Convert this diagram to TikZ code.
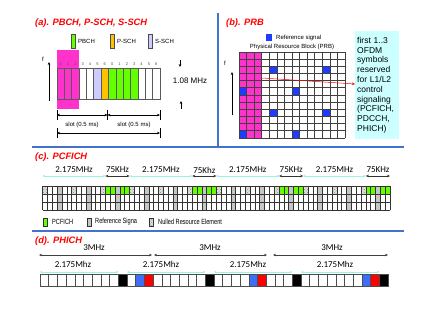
\documentclass[tikz,border=0pt]{standalone}
\usepackage{fontspec}
\setmainfont{Liberation Sans}
\newfontfamily\calibri{Carlito}
\usetikzlibrary{arrows.meta,patterns}
\definecolor{frameblue}{RGB}{66,114,204}
\definecolor{pinkre}{RGB}{255,51,204}
\definecolor{pbchgreen}{RGB}{102,255,0}
\definecolor{pschyellow}{RGB}{255,192,0}
\definecolor{sschlav}{RGB}{204,204,255}
\definecolor{refblue}{RGB}{30,60,255}
\definecolor{bwcyan}{RGB}{150,245,225}
\definecolor{notecyan}{RGB}{204,255,255}
\definecolor{phiblue}{RGB}{60,110,250}
\tikzset{
  paneltitle/.style={anchor=west,text=red,inner sep=0pt,font=\fontsize{9.3}{10}\selectfont\bfseries\itshape},
  smalltext/.style={inner sep=0pt,font=\fontsize{6}{7}\selectfont},
  bwtext/.style={inner sep=0pt,font=\calibri\fontsize{9}{10}\selectfont},
  legtext/.style={inner sep=0pt,anchor=west,font=\fontsize{7.5}{8}\selectfont},
  panelline/.style={frameblue,line width=2.2pt},
  recell/.style={draw=black!65,line width=0.7pt},
  nullre/.style={preaction={fill=gray!25},pattern=crosshatch dots,pattern color=gray!90},
  bwarrow/.style={bwcyan,line width=0.8pt,{Stealth[length=2.5pt,width=2.5pt]}-{Stealth[length=2.5pt,width=2.5pt]}},
}
\begin{document}
\begin{tikzpicture}[x=1pt,y=-1pt,>={Stealth[length=3pt,width=2.6pt]}]
\useasboundingbox[fill=white] (0,0) rectangle (436,308);
% panel frame lines
\draw[panelline] (32,147) -- (404,147);
\draw[panelline] (218,13) -- (218,147);
\draw[panelline] (32,231) -- (404,231);
% (a) synchronisation and broadcast channels
\node[paneltitle] (ta) at (35,23) {(a). PBCH, P-SCH, S-SCH};
\foreach \c/\t/\x [count=\n] in {pbchgreen/PBCH/71,pschyellow/P-SCH/110,sschlav/S-SCH/148}{
  \draw[fill=\c,draw=black!70,line width=0.5pt] (\x,34) rectangle ++(4,14);
  \node[smalltext,anchor=west] (lega\n) at (\x+7,41) {\t};
}
\fill[pinkre] (57,50) rectangle (79,109);
\foreach \c [count=\i from 0] in {none,none,none,white,white,sschlav,pschyellow,pbchgreen,pbchgreen,pbchgreen,pbchgreen,white,white,white}{
  \draw[recell,fill=\c] (57+\i*7.357,68) rectangle ++(7.357,31);
  \pgfmathtruncatemacro\k{mod(\i,7)}
  \node[inner sep=0pt,text=black!70,font=\fontsize{4}{4}\selectfont] (sym\i) at (60.68+\i*7.357,64.5) {\k};
}
\coordinate (fa0) at (49,101);
\coordinate (fa1) at (49,62);
\draw[->,line width=0.8pt] (fa0) -- (fa1);
\node[smalltext] (fa) at (43,59) {f};
\node[inner sep=0pt,font=\fontsize{8}{9}\selectfont] (bw) at (190,81) {1.08 MHz};
\draw[->,line width=0.8pt] (180,60) -- (180,67);
\draw[->,line width=0.8pt] (181,109) -- (181,101);
\foreach \x [count=\n] in {57,107.5,160}{
  \coordinate (sl\n) at (\x,115);
  \draw[line width=0.8pt] (\x,110) -- (\x,120);
}
\draw[<->,line width=0.8pt] (sl1) -- (sl2);
\draw[<->,line width=0.8pt] (sl2) -- (sl3);
\node[smalltext] (slot1) at (82,125) {slot (0.5 ms)};
\node[smalltext] (slot2) at (134,125) {slot (0.5 ms)};
\coordinate (sf1) at (57,133);
\coordinate (sf2) at (160,133);
\draw[line width=0.8pt] (57,128) -- (57,138) (160,128) -- (160,138);
\draw[<->,line width=0.8pt] (sf1) -- (sf2);
% (b) resource block
\node[paneltitle] (tb) at (226,23) {(b). PRB};
\fill[refblue] (266,34) rectangle (272,41);
\node[smalltext,anchor=west] (legb) at (276,38) {Reference signal};
\node[smalltext] (prb) at (292,47) {Physical Resource Block (PRB)};
\fill[pinkre] (239,52) rectangle ++(22.71,86);
\foreach \cx/\ry in {4/2,11/2,0/5,7/5,4/8,11/8,0/11,7/11}
  \fill[refblue] (239+\cx*7.571,52+\ry*7.1667) rectangle ++(7.571,7.1667);
\foreach \i in {0,...,14} \draw[black!75,line width=0.7pt] (239+\i*7.571,52) -- ++(0,86);
\foreach \j in {0,...,12} \draw[black!75,line width=0.7pt] (239,52+\j*7.1667) -- ++(106,0);
\coordinate (fb0) at (232,115);
\coordinate (fb1) at (232,72);
\draw[->,line width=0.8pt] (fb0) -- (fb1);
\node[smalltext] (fb) at (225,63) {f};
\node[anchor=north west,fill=notecyan,text width=40pt,minimum height=108pt,inner sep=2pt,align=left,font=\fontsize{8.5}{9.8}\selectfont] (note) at (355,31) {first 1..3\\OFDM\\symbols\\reserved\\for L1/L2\\control\\signaling\\(PCFICH,\\PDCCH,\\PHICH)};
\coordinate (ctl) at (262,78);
\coordinate (ctlend) at (355,84);
\draw[->,red,line width=0.5pt] (ctl) -- (ctlend);
% (c) control format indicator
\node[paneltitle] (tc) at (35,157) {(c). PCFICH};
\foreach \i in {3,9,...,69} \fill[gray!45] (42.7+\i*4.824,186) rectangle ++(4.824,24);
\foreach \i in {0,6,...,66} \fill[nullre] (42.7+\i*4.824,186) rectangle ++(4.824,8);
\foreach \i in {13,14,16,17,31,32,34,35,49,50,52,53,67,68,70,71} \fill[pbchgreen] (42.7+\i*4.824,186) rectangle ++(4.824,8);
\foreach \i in {0,...,72} \draw[black!80,line width=0.6pt] (42.7+\i*4.824,186) -- ++(0,24);
\foreach \j in {0,...,3} \draw[black!80,line width=0.6pt] (42.7,186+\j*8) -- ++(347.3,0);
\foreach \a [count=\n] in {0,18,36,54}{
  \draw[bwarrow] (42.7+\a*4.824,176) -- ++(62.7,0);
  \node[bwtext] (wide\n) at (74.1+\a*4.824,170) {2.175MHz};
}
\foreach \a/\t [count=\n] in {13/75KHz,31/75Khz,49/75KHz,67/75KHz}{
  \draw[<->,black!80,line width=0.6pt] (42.7+\a*4.824,176) -- ++(24.1,0);
  \node[bwtext] (narrow\n) at (54.8+\a*4.824,170) {\t};
}
\draw[fill=pbchgreen,draw=black!80] (43,218) rectangle (47,226);
\node[legtext] (lc1) at (52,222) {\scalebox{0.75}[1]{PCFICH}};
\draw[fill=gray!45,draw=black!80] (87,218) rectangle (91,226);
\node[legtext] (lc2) at (95,222) {\scalebox{0.75}[1]{Reference Signa}};
\draw[nullre,draw=black!80] (149,218) rectangle (153,226);
\node[legtext] (lc3) at (158,222) {\scalebox{0.75}[1]{Nulled Resource Element}};
% (d) hybrid ARQ indicator
\node[paneltitle] (td) at (35,241) {(d). PHICH};
\foreach \a/\b/\m [count=\n] in {39/152/94,154/267/210,273/388/332}{
  \draw[<->,black!75,line width=0.6pt] (\a,255) -- (\b,255);
  \node[bwtext] (full\n) at (\m,248) {3MHz};
}
\foreach \a/\m [count=\n] in {0/73,10/161,20/248,30/335}{
  \draw[bwarrow] (40+\a*8.7,272) -- ++(78.3,0);
  \node[bwtext] (half\n) at (\m,264) {2.175Mhz};
}
\foreach \i in {9,19,29,39} \fill[black] (40+\i*8.7,274) rectangle ++(8.7,12);
\foreach \i in {11,24,37} \fill[phiblue] (40+\i*8.7,274) rectangle ++(8.7,12);
\foreach \i in {12,25,38} \fill[red] (40+\i*8.7,274) rectangle ++(8.7,12);
\foreach \i in {0,...,39} \draw[black!70,line width=0.6pt] (40+\i*8.7,274) rectangle ++(8.7,12);
\end{tikzpicture}
\end{document}
